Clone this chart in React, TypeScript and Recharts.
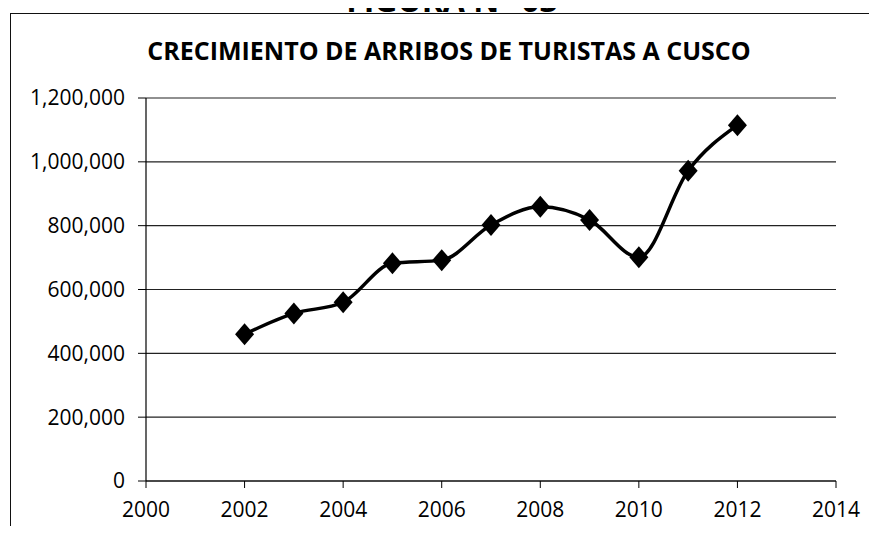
import React from "react";
import { LineChart, Line, XAxis, YAxis, CartesianGrid } from "recharts";

const years = [2002, 2003, 2004, 2005, 2006, 2007, 2008, 2009, 2010, 2011, 2012];
const arrivals = [
  460000, 525000, 560000, 682000, 692000, 802000, 859000, 818000, 701000,
  972000, 1115000,
];
const xTicks = [2000, 2002, 2004, 2006, 2008, 2010, 2012, 2014];
const yTicks = [0, 200000, 400000, 600000, 800000, 1000000, 1200000];

const data = years.map((year, i) => ({ year, arrivals: arrivals[i] }));

const FONT = "'Open Sans', sans-serif";

// diamond marker like the Excel one
const Diamond = (props: any) => {
  const { cx, cy } = props;
  if (cx == null || cy == null) return null;
  return (
    <polygon
      points={`${cx},${cy - 11} ${cx + 9.5},${cy} ${cx},${cy + 11} ${cx - 9.5},${cy}`}
      fill="#000"
    />
  );
};

const formatThousands = (v: number) => v.toLocaleString("en-US");

export default function App() {
  return (
    <div
      style={{
        position: "relative",
        width: 877,
        height: 534,
        margin: -8,
        overflow: "hidden",
        background: "#fff",
        fontFamily: FONT,
      }}
    >
      {/* figure caption, cut off by the top edge as in the scan */}
      <div
        style={{
          position: "absolute",
          left: 0,
          width: 904,
          top: -16,
          textAlign: "center",
          fontSize: 32,
          lineHeight: "32px",
          fontWeight: 700,
          color: "#000",
        }}
      >
        FIGURA N° 03
      </div>
      <div
        style={{
          position: "absolute",
          left: 10,
          top: 13,
          width: 900,
          height: 600,
          borderTop: "1.5px solid #111",
          borderLeft: "1.5px solid #111",
        }}
      />
      <div
        style={{
          position: "absolute",
          left: 0,
          width: 898,
          top: 38,
          textAlign: "center",
          fontSize: 25,
          lineHeight: "25px",
          fontWeight: 700,
          color: "#000",
        }}
      >
        CRECIMIENTO DE ARRIBOS DE TURISTAS A CUSCO
      </div>
      <div style={{ position: "absolute", left: 0, top: 0 }}>
        <LineChart
          width={877}
          height={534}
          data={data}
          margin={{ top: 98, right: 41, bottom: 13, left: 16 }}
        >
          <CartesianGrid vertical={false} stroke="#222" strokeWidth={1.2} />
          <XAxis
            dataKey="year"
            type="number"
            domain={[2000, 2014]}
            ticks={xTicks}
            height={40}
            tickSize={7}
            tickMargin={14}
            axisLine={{ stroke: "#000", strokeWidth: 1.2 }}
            tickLine={{ stroke: "#000" }}
            tick={{ fill: "#000", fontSize: 21, fontFamily: FONT }}
          />
          <YAxis
            type="number"
            domain={[0, 1200000]}
            ticks={yTicks}
            width={130}
            tickSize={8}
            tickMargin={13}
            tickFormatter={formatThousands}
            axisLine={{ stroke: "#000", strokeWidth: 1.2 }}
            tickLine={{ stroke: "#000" }}
            tick={{ fill: "#000", fontSize: 21, fontFamily: FONT }}
          />
          <Line
            dataKey="arrivals"
            type="monotone"
            stroke="#000"
            strokeWidth={3.5}
            dot={<Diamond />}
            activeDot={false}
            isAnimationActive={false}
          />
        </LineChart>
      </div>
    </div>
  );
}
